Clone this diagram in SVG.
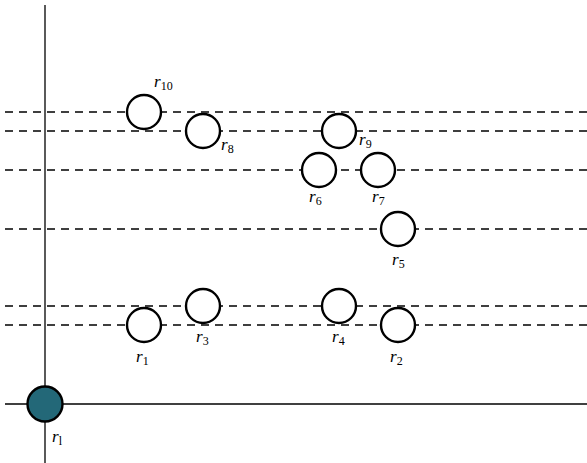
<svg xmlns="http://www.w3.org/2000/svg" width="587" height="463" viewBox="0 0 587 463">
<style>
.axis{stroke:#000;stroke-width:1.3;fill:none}
.dash{stroke:#000;stroke-width:1.3;stroke-dasharray:8 6;fill:none}
.node{fill:#fff;stroke:#000;stroke-width:2.4}
.root{fill:#236878;stroke:#000;stroke-width:2.4}
text{font-family:"Liberation Serif","DejaVu Serif",serif;font-size:17px;fill:#000}
.v{font-style:italic}
.s{font-size:12px;font-style:normal}
</style>
<rect width="587" height="463" fill="#fff"/>
<g id="connectors">
<line class="axis" x1="45" y1="5" x2="45" y2="463"/>
<line class="axis" x1="5" y1="404" x2="587" y2="404"/>
<line class="dash" x1="5" y1="112" x2="587" y2="112"/>
<line class="dash" x1="5" y1="131" x2="587" y2="131"/>
<line class="dash" x1="5" y1="170" x2="587" y2="170"/>
<line class="dash" x1="5" y1="229" x2="587" y2="229"/>
<line class="dash" x1="5" y1="306" x2="587" y2="306"/>
<line class="dash" x1="5" y1="325" x2="587" y2="325"/>
</g>
<g id="rl"><circle class="root" cx="45" cy="404" r="17.5"/><text x="52" y="442"><tspan class="v">r</tspan><tspan class="s v" dy="3">l</tspan></text></g>
<g id="r10"><circle class="node" cx="144" cy="112" r="17"/><text x="154" y="87"><tspan class="v">r</tspan><tspan class="s" dy="3">10</tspan></text></g>
<g id="r8"><circle class="node" cx="203" cy="131" r="17"/><text x="221" y="150"><tspan class="v">r</tspan><tspan class="s" dy="3">8</tspan></text></g>
<g id="r9"><circle class="node" cx="339" cy="131" r="17"/><text x="359" y="145"><tspan class="v">r</tspan><tspan class="s" dy="3">9</tspan></text></g>
<g id="r6"><circle class="node" cx="319" cy="170" r="17"/><text x="309" y="202"><tspan class="v">r</tspan><tspan class="s" dy="3">6</tspan></text></g>
<g id="r7"><circle class="node" cx="378" cy="170" r="17"/><text x="372" y="202"><tspan class="v">r</tspan><tspan class="s" dy="3">7</tspan></text></g>
<g id="r5"><circle class="node" cx="398" cy="229" r="17"/><text x="392" y="265"><tspan class="v">r</tspan><tspan class="s" dy="3">5</tspan></text></g>
<g id="r1"><circle class="node" cx="144" cy="325" r="17"/><text x="136" y="362"><tspan class="v">r</tspan><tspan class="s" dy="3">1</tspan></text></g>
<g id="r3"><circle class="node" cx="203" cy="306" r="17"/><text x="196" y="342"><tspan class="v">r</tspan><tspan class="s" dy="3">3</tspan></text></g>
<g id="r4"><circle class="node" cx="339" cy="306" r="17"/><text x="332" y="342"><tspan class="v">r</tspan><tspan class="s" dy="3">4</tspan></text></g>
<g id="r2"><circle class="node" cx="398" cy="325" r="17"/><text x="390" y="362"><tspan class="v">r</tspan><tspan class="s" dy="3">2</tspan></text></g>
</svg>
